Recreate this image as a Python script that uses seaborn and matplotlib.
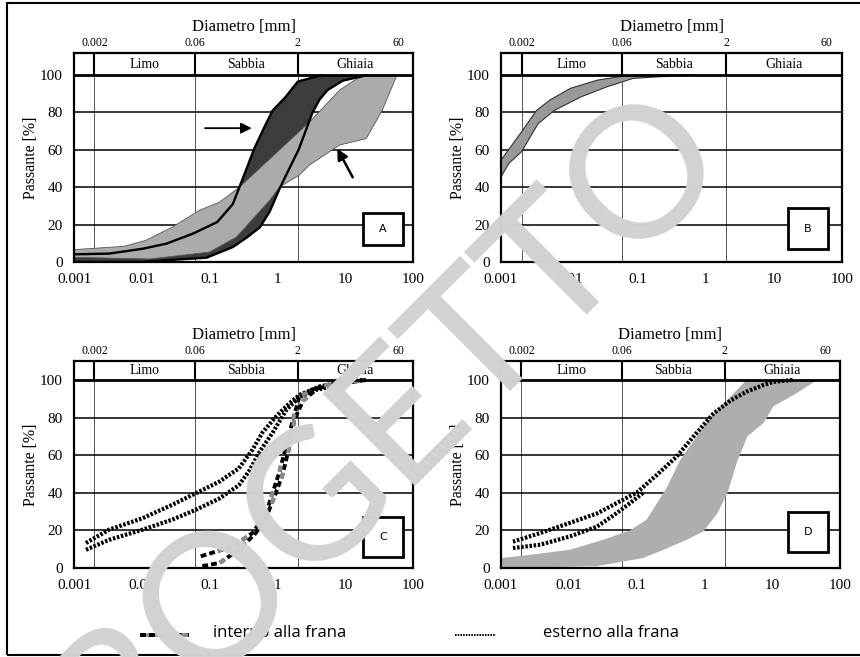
import numpy as np
import seaborn as sns
import matplotlib.pyplot as plt
from matplotlib.patches import Rectangle
from matplotlib.lines import Line2D
from matplotlib.ticker import LogLocator, NullFormatter, NullLocator

# ---- axis / header data ----
x_ticks = [0.001, 0.01, 0.1, 1, 10, 100]
x_tick_labels = ["0.001", "0.01", "0.1", "1", "10", "100"]
y_ticks = [0, 20, 40, 60, 80, 100]
y_minor = [10, 30, 50, 70, 90]
top_ticks = [0.002, 0.06, 2, 60]
top_labels = ["0.002", "0.06", "2", "60"]
class_bounds = [0.002, 0.06, 2]
class_names = ["Limo", "Sabbia", "Ghiaia"]
class_centers = [0.011, 0.35, 14.0]

# ---- panel A ----
a_dark_left_x = [0.001, 0.0033, 0.0103, 0.023, 0.057, 0.13, 0.22, 0.275, 0.46, 0.68, 0.85, 1.3, 2.0, 4.5]
a_dark_left_y = [4.1, 4.5, 7.1, 9.8, 15.2, 21.4, 31, 40, 61, 74, 81, 88, 96.5, 100]
a_dark_right_x = [0.001, 0.01, 0.04, 0.09, 0.22, 0.35, 0.55, 0.77, 1.1, 1.5, 2.05, 2.6, 3.3, 4.2, 5.5, 9.2, 21]
a_dark_right_y = [0, 0, 1.5, 2.3, 8, 13, 18.5, 27, 40, 50, 60, 70, 80, 87, 92, 97, 100]
a_light_top_x = [0.001, 0.0055, 0.0115, 0.0285, 0.071, 0.14, 0.275, 3.0, 8.3, 14.8, 21, 58]
a_light_top_y = [6.6, 8.4, 11.6, 18.75, 27.7, 32, 40, 75, 92, 98, 100, 100]
a_light_bot_x = [0.001, 0.013, 0.1, 0.25, 0.77, 1.07, 2.1, 3.0, 8.3, 20.4, 35, 58]
a_light_bot_y = [2.5, 1.6, 5.3, 13.4, 33, 40, 46.5, 52, 62.6, 66, 81, 100]

# ---- panel B ----
b_top_x = [0.001, 0.002, 0.0033, 0.0052, 0.0104, 0.026, 0.063, 0.1]
b_top_y = [54.5, 69.6, 81, 86.6, 92.9, 97.3, 99.5, 100]
b_bot_x = [0.001, 0.0013, 0.002, 0.0035, 0.006, 0.015, 0.036, 0.086, 0.21, 0.74]
b_bot_y = [45.5, 52.7, 59, 74, 81, 88.4, 93.75, 98.2, 99.1, 100]

# ---- panel C ----
c_ext1_x = [0.0015, 0.0033, 0.0103, 0.028, 0.063, 0.14, 0.27, 0.43, 0.6, 0.95, 1.5, 2.1, 4.2, 10, 20]
c_ext1_y = [13.3, 20.4, 26.5, 33.6, 39.8, 46, 53, 63, 72, 80.5, 87.6, 92, 96.5, 99, 100]
c_ext2_x = [0.0015, 0.0033, 0.0103, 0.028, 0.063, 0.14, 0.27, 0.39, 0.54, 0.85, 1.35, 2.1, 3.7, 9.3, 18]
c_ext2_y = [9.7, 15, 20.4, 25.7, 31, 37, 44, 52, 61.5, 72, 84, 91, 94.7, 98, 100]
c_int1_x = [0.074, 0.22, 0.43, 0.68, 0.85, 1.07, 1.35, 1.7, 2.1, 3.3, 8.2, 20]
c_int1_y = [6.2, 11.5, 18.6, 29, 40, 51, 65, 79, 91, 95, 98, 100]
c_int2_x = [0.078, 0.14, 0.27, 0.48, 0.72, 0.95, 1.2, 1.5, 1.78, 2.4, 4.2, 10]
c_int2_y = [1, 2.7, 9.7, 18.6, 29, 40, 50, 64.6, 79, 89, 96.5, 99.5]

# ---- panel D ----
d_top_x = [0.001, 0.0027, 0.0104, 0.032, 0.08, 0.14, 0.2, 0.28, 0.44, 0.77, 1.36, 2.4, 4.2]
d_top_y = [5.3, 7, 9.7, 15, 20, 25.7, 34.5, 43, 57.5, 70, 82, 91, 100]
d_bot_x = [0.001, 0.026, 0.125, 0.25, 0.55, 0.97, 1.55, 2.2, 3.0, 4.3, 7.4, 10.4, 23, 46]
d_bot_y = [0, 1, 5.3, 9.7, 15, 19.5, 29, 40, 56, 70, 77, 86, 93, 100]
d_ext1_x = [0.0015, 0.0038, 0.0104, 0.026, 0.063, 0.1, 0.2, 0.39, 0.76, 1.35, 2.4, 4.2, 7.4, 10.4, 20]
d_ext1_y = [14, 18.6, 24, 29, 36.3, 40, 49.6, 59.3, 71.7, 82, 89, 93.8, 97.3, 99, 100]
d_ext2_x = [0.0015, 0.0038, 0.0104, 0.026, 0.05, 0.08, 0.13]
d_ext2_y = [10.6, 12.4, 16.8, 22, 29, 34.5, 40.5]

sns.set_theme(style="white")
plt.rcParams["font.family"] = ["Liberation Serif", "DejaVu Serif"]
plt.rcParams["text.color"] = "black"
plt.rcParams["axes.labelcolor"] = "black"

W, H = 860, 657
fig = plt.figure(figsize=(8.6, 6.57), dpi=100)

EXT_STYLE = dict(color="black", lw=3.0, linestyle=(0, (0.6, 0.4)))
INT_BLACK = dict(color="black", lw=2.8, linestyle=(0, (1.5, 0.8)))
INT_GRAY = dict(color="#8c8c8c", lw=2.8, linestyle=(2.3, (1.5, 5.4)))


def px_axes(left, top, right, bottom):
    return fig.add_axes([left / W, (H - bottom) / H, (right - left) / W, (bottom - top) / H])


def style_panel(ax, ytop, letter, box):
    ax.set_xscale("log")
    ax.set_xlim(1e-3, 1e2)
    ax.set_ylim(0, ytop)
    ax.set_xlabel("")
    for s in ax.spines.values():
        s.set_color("black")
        s.set_linewidth(1.6)
    ax.set_xticks(x_ticks)
    ax.set_xticklabels(x_tick_labels)
    ax.xaxis.set_minor_locator(LogLocator(base=10, subs=np.arange(2, 10)))
    ax.xaxis.set_minor_formatter(NullFormatter())
    ax.set_yticks(y_ticks)
    ax.set_yticklabels([str(v) for v in y_ticks])
    ax.set_yticks(y_minor, minor=True)
    ax.tick_params(which="both", direction="in", colors="black", labelsize=11,
                   top=False, right=False, width=1.0)
    ax.tick_params(axis="x", which="major", length=7, pad=8)
    ax.tick_params(axis="x", which="minor", length=3.5)
    ax.tick_params(axis="y", which="major", length=0, pad=8)
    ax.tick_params(axis="y", which="minor", length=5)
    for yv in [20, 40, 60, 80]:
        ax.axhline(yv, color="black", lw=1.1, zorder=0.5)
    ax.axhline(100, color="black", lw=2.0, zorder=4)
    frac = 100 / ytop
    for xb in class_bounds:
        ax.axvline(xb, ymax=frac, color="#555555", lw=0.7, zorder=0.4)
        ax.axvline(xb, ymin=frac, color="black", lw=1.5, zorder=4)
    for name, xc in zip(class_names, class_centers):
        ax.text(xc, (100 + ytop) / 2, name, ha="center", va="center", fontsize=10)
    sec = ax.secondary_xaxis("top")
    sec.set_xticks(top_ticks, labels=top_labels)
    sec.xaxis.set_minor_locator(NullLocator())
    sec.tick_params(length=0, labelsize=8.5, pad=3, colors="black")
    sec.spines["top"].set_visible(False)
    sec.set_xlabel("Diametro [mm]", fontsize=12, labelpad=4)
    ax.set_ylabel("Passante [%]", fontsize=11.5, labelpad=1)
    x0, y0, x1, y1 = box
    ax.add_patch(Rectangle((x0, y0), x1 - x0, y1 - y0, transform=ax.transAxes,
                           facecolor="white", edgecolor="black", lw=2.0, zorder=6))
    ax.text((x0 + x1) / 2, (y0 + y1) / 2, letter, transform=ax.transAxes,
            ha="center", va="center", fontsize=8, family="DejaVu Sans", zorder=7)


def band(ax, xt, yt, xb, yb, **kw):
    ax.fill(np.r_[xt, xb[::-1]], np.r_[yt, yb[::-1]], **kw)


def line(ax, x, y, **kw):
    sns.lineplot(x=x, y=y, ax=ax, sort=False, estimator=None, **kw)


ax_a = px_axes(74, 53, 413, 262)
ax_b = px_axes(501, 53, 842, 262)
ax_c = px_axes(74, 361, 413, 568)
ax_d = px_axes(501, 361, 840, 568)

# panel A
band(ax_a, a_dark_left_x, a_dark_left_y, a_dark_right_x, a_dark_right_y,
     facecolor="#3c3c3c", edgecolor="none", zorder=1)
band(ax_a, a_light_top_x, a_light_top_y, a_light_bot_x, a_light_bot_y,
     facecolor="#ababab", edgecolor="#555555", lw=0.6, zorder=2)
line(ax_a, a_dark_left_x, a_dark_left_y, color="black", lw=1.7, zorder=3)
line(ax_a, a_dark_right_x, a_dark_right_y, color="black", lw=1.7, zorder=3)
ax_a.annotate("", xy=(0.46, 71.6), xytext=(0.078, 71.6),
              arrowprops=dict(arrowstyle="-|>", color="black", lw=1.3, mutation_scale=16),
              zorder=5)
ax_a.annotate("", xy=(7.3, 62), xytext=(13.5, 44),
              arrowprops=dict(arrowstyle="-|>", color="black", lw=1.8, mutation_scale=16),
              zorder=5)
style_panel(ax_a, 111.8, "A", (0.852, 0.081, 0.970, 0.234))

# panel B
band(ax_b, b_top_x, b_top_y, b_bot_x, b_bot_y,
     facecolor="#999999", edgecolor="#333333", lw=0.8, zorder=2)
style_panel(ax_b, 111.8, "B", (0.842, 0.062, 0.959, 0.258))

# panel C
line(ax_c, c_ext1_x, c_ext1_y, zorder=3, **EXT_STYLE)
line(ax_c, c_ext2_x, c_ext2_y, zorder=3, **EXT_STYLE)
for xs, ys in [(c_int1_x, c_int1_y), (c_int2_x, c_int2_y)]:
    line(ax_c, xs, ys, zorder=3, **INT_BLACK)
    line(ax_c, xs, ys, zorder=3.5, **INT_GRAY)
style_panel(ax_c, 110.1, "C", (0.852, 0.053, 0.970, 0.246))

# panel D
band(ax_d, d_top_x, d_top_y, d_bot_x, d_bot_y,
     facecolor="#aeaeae", edgecolor="none", zorder=2)
line(ax_d, d_ext1_x, d_ext1_y, zorder=3, **EXT_STYLE)
line(ax_d, d_ext2_x, d_ext2_y, zorder=3, **EXT_STYLE)
style_panel(ax_d, 110.1, "D", (0.847, 0.077, 0.965, 0.270))

# legend row at the bottom
ly = (H - 635) / H
fig.add_artist(Line2D([140 / W, 189 / W], [ly, ly], **INT_BLACK))
fig.add_artist(Line2D([140 / W, 189 / W], [ly, ly],
                      color="#8c8c8c", lw=2.8, linestyle=(0.7, (1.5, 0.8))))
fig.add_artist(Line2D([140 / W, 158 / W], [ly, ly], **INT_BLACK))
fig.text(213 / W, (H - 633) / H, "interno alla frana", fontsize=12,
         family=["Open Sans", "DejaVu Sans"], va="center", ha="left")
fig.add_artist(Line2D([455 / W, 496 / W], [ly, ly], color="black", lw=1.4,
                      linestyle=(0, (0.8, 0.6))))
fig.text(543 / W, (H - 633) / H, "esterno alla frana", fontsize=12,
         family=["Open Sans", "DejaVu Sans"], va="center", ha="left")

# outer frame
fig.add_artist(Rectangle((7 / W, 2 / H), 1.0, (H - 5) / H, transform=fig.transFigure,
                         fill=False, edgecolor="black", lw=1.5))

# watermark
fig.text(350 / W, (H - 462) / H, "PROGETTO", rotation=45, rotation_mode="anchor",
         ha="center", va="center", fontsize=132, color="#d2d2d2",
         family=["Lato", "DejaVu Sans"], fontweight="normal", zorder=20)

fig.savefig("out.png", dpi=100)
